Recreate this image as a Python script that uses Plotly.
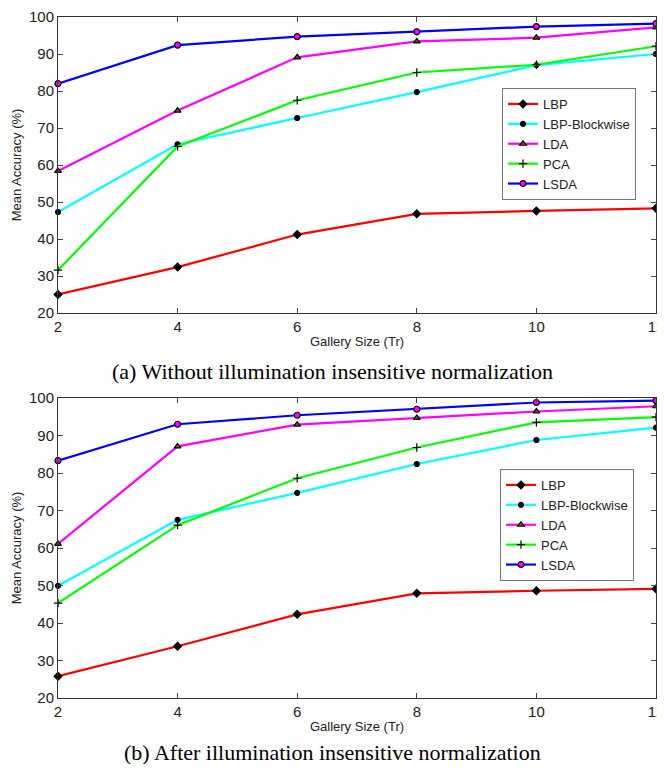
import plotly.graph_objects as go

gallery = [2, 4, 6, 8, 10, 12]
series_names = ["LBP", "LBP-Blockwise", "LDA", "PCA", "LSDA"]

# (a) Without illumination insensitive normalization
a_lbp = [25.0, 32.4, 41.2, 46.8, 47.6, 48.3]
a_blockwise = [47.3, 65.6, 72.7, 79.7, 87.0, 90.0]
a_lda = [58.4, 74.7, 89.1, 93.4, 94.4, 97.2]
a_pca = [31.6, 65.0, 77.5, 85.0, 87.1, 92.1]
a_lsda = [82.0, 92.4, 94.7, 96.0, 97.4, 98.2]

# (b) After illumination insensitive normalization
b_lbp = [25.8, 33.8, 42.3, 47.9, 48.6, 49.1]
b_blockwise = [49.9, 67.5, 74.7, 82.4, 88.8, 92.1]
b_lda = [61.1, 87.1, 92.9, 94.7, 96.4, 97.8]
b_pca = [45.3, 66.1, 78.6, 86.8, 93.5, 94.9]
b_lsda = [83.3, 93.0, 95.4, 97.0, 98.8, 99.3]

y_ticks = [20, 30, 40, 50, 60, 70, 80, 90, 100]
x_ticks = [2, 4, 6, 8, 10, 12]
x_title = "Gallery Size (Tr)"
y_title = "Mean Accuracy (%)"
caption_a = "(a) Without illumination insensitive normalization"
caption_b = "(b) After illumination insensitive normalization"

colors = ["#ff0000", "#00ffff", "#ff00ff", "#00ff00", "#0000ff"]
symbols = ["diamond", "circle", "triangle-up", "cross-thin", "circle"]
mfill = ["black", "black", "#6b5a1a", "black", "#ff00ff"]
msize = [6, 5, 6, 6, 6]

fig = go.Figure()

def add_set(vals, xa, ya, legend):
    for i, (name, v) in enumerate(zip(series_names, vals)):
        fig.add_trace(go.Scatter(
            x=gallery, y=v, name=name, mode="lines+markers",
            xaxis=xa, yaxis=ya, legend=legend, cliponaxis=False,
            line=dict(color=colors[i], width=2.2),
            marker=dict(symbol=symbols[i], size=msize[i], color=mfill[i],
                        line=dict(color="black", width=1.2)),
        ))

add_set([a_lbp, a_blockwise, a_lda, a_pca, a_lsda], "x", "y", "legend")
add_set([b_lbp, b_blockwise, b_lda, b_pca, b_lsda], "x2", "y2", "legend2")

# page has an 8px body margin; figure coords = page coords - 8
OFF = 8
W, H = 657, 756
def px(x):
    return (x - OFF) / W
def py(y):
    return 1 - (y - OFF) / H

xdom = [px(58), px(656)]
top_dom = [py(313), py(17)]
bot_dom = [py(698), py(398)]

axfont = dict(family="Liberation Sans, Arial", size=15, color="#222")
common_x = dict(range=[2, 12], tickvals=x_ticks, ticks="inside", ticklen=5,
                showline=True, linecolor="#333", linewidth=1, mirror="ticks",
                showgrid=False, zeroline=False, tickfont=axfont, automargin=False,
                ticklabeloverflow="allow",
                title=dict(text=x_title, font=dict(family="Liberation Sans, Arial", size=13, color="#222"), standoff=2))
common_y = dict(range=[20, 100], tickvals=y_ticks, ticks="inside", ticklen=5,
                showline=True, linecolor="#333", linewidth=1, mirror="ticks",
                showgrid=False, zeroline=False, tickfont=axfont, automargin=False,
                ticklabeloverflow="allow",
                title=dict(text=y_title, font=dict(family="Liberation Sans, Arial", size=13, color="#222"), standoff=4))

legfont = dict(family="Liberation Sans, Arial", size=13, color="#222")
fig.update_layout(
    width=W, height=H,
    margin=dict(l=0, r=0, t=0, b=0, autoexpand=False),
    paper_bgcolor="white", plot_bgcolor="white",
    xaxis=dict(domain=xdom, anchor="y", **common_x),
    yaxis=dict(domain=top_dom, anchor="x", **common_y),
    xaxis2=dict(domain=xdom, anchor="y2", **common_x),
    yaxis2=dict(domain=bot_dom, anchor="x2", **common_y),
    legend=dict(x=px(502), y=py(88), xanchor="left", yanchor="top",
                bordercolor="#777", borderwidth=1, bgcolor="white",
                font=legfont, tracegroupgap=0, itemwidth=30),
    legend2=dict(x=px(500), y=py(469), xanchor="left", yanchor="top",
                 bordercolor="#777", borderwidth=1, bgcolor="white",
                 font=legfont, tracegroupgap=0, itemwidth=30),
    annotations=[
        dict(text=caption_a, x=px(332), y=py(372), xref="paper", yref="paper",
             showarrow=False, xanchor="center", yanchor="middle",
             font=dict(family="Liberation Serif, Times New Roman", size=22, color="black")),
        dict(text=caption_b, x=px(332), y=py(752), xref="paper", yref="paper",
             showarrow=False, xanchor="center", yanchor="middle",
             font=dict(family="Liberation Serif, Times New Roman", size=22, color="black")),
    ],
)

fig.write_html("out.html")
